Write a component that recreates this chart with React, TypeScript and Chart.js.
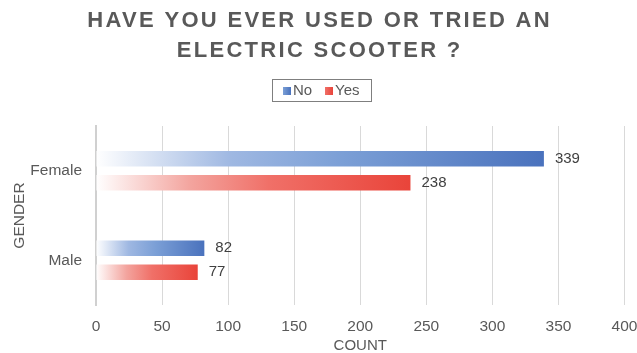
import React, { useEffect, useRef } from "react";
import { Chart, registerables } from "chart.js";

Chart.register(...registerables);

const titleLines = ["HAVE YOU EVER USED OR TRIED AN", "ELECTRIC SCOOTER ?"];
const categories = ["Female", "Male"];
const seriesNames = ["No", "Yes"];
const noValues = [339, 82];
const yesValues = [238, 77];
const xTicks = [0, 50, 100, 150, 200, 250, 300, 350, 400];
const xTitle = "COUNT";
const yTitle = "GENDER";

const FONT = "'Liberation Sans', Arial, sans-serif";
const TEXT = "#595959";

const blueStops: [number, string][] = [
  [0, "rgba(255,255,255,1)"],
  [0.3, "#9fb8e2"],
  [0.55, "#7b9fd6"],
  [1, "#4a72bd"],
];
const redStops: [number, string][] = [
  [0, "rgba(255,255,255,1)"],
  [0.3, "#f3a49e"],
  [0.55, "#f07068"],
  [1, "#e9443a"],
];

function barGradient(stops: [number, string][], solid: string) {
  return (ctx: any) => {
    const chart = ctx.chart;
    const xs = chart.scales && chart.scales.x;
    if (!xs || !ctx.parsed || xs.width === undefined) return solid;
    const x0 = xs.getPixelForValue(0);
    const x1 = xs.getPixelForValue(ctx.parsed.x);
    if (!isFinite(x0) || !isFinite(x1) || x1 - x0 < 1) return solid;
    const g = chart.ctx.createLinearGradient(x0, 0, x1, 0);
    stops.forEach(([o, c]) => g.addColorStop(o, c));
    return g;
  };
}

const decorPlugin = {
  id: "decor",
  afterDraw(chart: any) {
    const ctx = chart.ctx as CanvasRenderingContext2D;
    const W = chart.width;
    // Title
    ctx.save();
    ctx.fillStyle = TEXT;
    ctx.font = `bold 22px ${FONT}`;
    ctx.textBaseline = "middle";
    ctx.textAlign = "left";
    const ls = 2.3;
    (ctx as any).letterSpacing = `${ls}px`;
    const ys = [21, 51];
    titleLines.forEach((line, i) => {
      const w = ctx.measureText(line).width - ls;
      ctx.fillText(line, (W - w) / 2, ys[i]);
    });
    (ctx as any).letterSpacing = "0px";
    ctx.restore();

    // Legend
    ctx.save();
    ctx.font = `15px ${FONT}`;
    ctx.textBaseline = "middle";
    ctx.textAlign = "left";
    const boxL = 272.5, boxT = 79.5, boxW = 99, boxH = 22;
    ctx.strokeStyle = "#7f7f7f";
    ctx.lineWidth = 1;
    ctx.strokeRect(boxL, boxT, boxW, boxH);
    const cy = 91;
    const items = [
      { x: 283, stops: blueStops, text: seriesNames[0] },
      { x: 325, stops: redStops, text: seriesNames[1] },
    ];
    items.forEach((it) => {
      const g = ctx.createLinearGradient(it.x, 0, it.x + 8, 0);
      g.addColorStop(0, it.stops[2][1]);
      g.addColorStop(1, it.stops[3][1]);
      ctx.fillStyle = g;
      ctx.fillRect(it.x, cy - 4, 8, 8);
      ctx.fillStyle = TEXT;
      ctx.fillText(it.text, it.x + 10, cy);
    });
    ctx.restore();

    // Data labels
    ctx.save();
    ctx.font = `15px ${FONT}`;
    ctx.fillStyle = "#404040";
    ctx.textBaseline = "middle";
    ctx.textAlign = "left";
    chart.data.datasets.forEach((ds: any, di: number) => {
      const meta = chart.getDatasetMeta(di);
      meta.data.forEach((bar: any, i: number) => {
        ctx.fillText(String(ds.data[i]), bar.x + 11, bar.y);
      });
    });
    ctx.restore();
  },
};

export default function App() {
  const ref = useRef<HTMLCanvasElement>(null);
  useEffect(() => {
    if (!ref.current) return;
    const chart = new Chart(ref.current, {
      type: "bar",
      data: {
        labels: categories,
        datasets: [
          {
            label: seriesNames[0],
            data: noValues,
            backgroundColor: barGradient(blueStops, "#6f94d2"),
            borderWidth: 0,
            barPercentage: 0.64,
            categoryPercentage: 0.535,
          },
          {
            label: seriesNames[1],
            data: yesValues,
            backgroundColor: barGradient(redStops, "#ee6a60"),
            borderWidth: 0,
            barPercentage: 0.64,
            categoryPercentage: 0.535,
          },
        ],
      },
      options: {
        indexAxis: "y",
        animation: false,
        responsive: true,
        maintainAspectRatio: false,
        layout: { padding: { top: 126, right: 0, bottom: 0, left: 0 } },
        plugins: {
          legend: { display: false },
          title: { display: false },
          tooltip: { enabled: false },
        },
        scales: {
          x: {
            min: 0,
            max: 400,
            afterBuildTicks: (scale: any) => {
              scale.ticks = xTicks.map((v) => ({ value: v }));
            },
            afterFit: (scale: any) => {
              scale.height = 48;
              scale.paddingRight = 12.5;
            },
            grid: {
              color: "#d9d9d9",
              lineWidth: 1,
              drawTicks: false,
            },
            border: { display: false },
            ticks: {
              color: TEXT,
              font: { family: FONT, size: 15.5 },
              padding: 12,
            },
            title: {
              display: true,
              text: xTitle,
              color: TEXT,
              font: { family: FONT, size: 15, lineHeight: 1 },
              padding: { top: 0, bottom: 0 },
            },
          },
          y: {
            afterFit: (scale: any) => {
              scale.width = 96;
            },
            grid: { display: false, drawTicks: false },
            border: { display: true, color: "#d0d0d0", width: 2 },
            ticks: {
              color: TEXT,
              font: { family: FONT, size: 15.5 },
              padding: 14,
            },
            title: {
              display: true,
              text: yTitle,
              color: TEXT,
              font: { family: FONT, size: 15.5 },
              padding: { top: 10, bottom: 0 },
            },
          },
        },
      },
      plugins: [decorPlugin],
    });
    return () => chart.destroy();
  }, []);
  return (
    <div style={{ position: "fixed", left: 0, top: 0, width: 637, height: 353, background: "#fff" }}>
      <canvas ref={ref} />
    </div>
  );
}
